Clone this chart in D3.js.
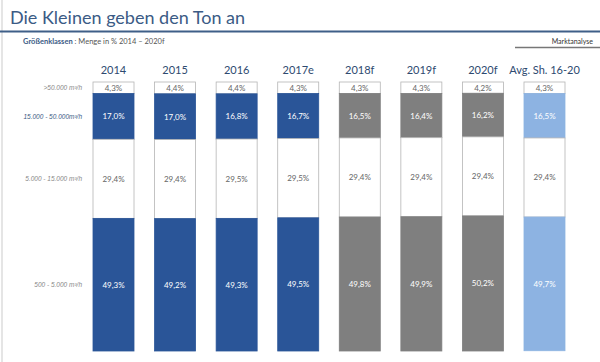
<!DOCTYPE html>
<html>
<head>
<meta charset="utf-8">
<script src="https://cdnjs.cloudflare.com/ajax/libs/d3/7.8.5/d3.min.js"></script>
<style>
  body { margin: 0; background: #fff; }
  svg { display: block; font-family: "Lato", "Open Sans", sans-serif; }
</style>
</head>
<body>
<svg id="chart"></svg>
<script>
// categories (columns) and size classes (rows, top to bottom)
const years = ['2014', '2015', '2016', '2017e', '2018f', '2019f', '2020f', 'Avg. Sh. 16-20']
const classes = ['>50.000 m³/h', '15.000 - 50.000m³/h', '5.000 - 15.000 m³/h', '500 - 5.000 m³/h']
const kinds = ['actual', 'actual', 'actual', 'actual', 'forecast', 'forecast', 'forecast', 'average']

// shares in % per size class
const over50k   = [4.3, 4.4, 4.4, 4.3, 4.3, 4.3, 4.2, 4.3]
const s15to50k  = [17.0, 17.0, 16.8, 16.7, 16.5, 16.4, 16.2, 16.5]
const s5to15k   = [29.4, 29.4, 29.5, 29.5, 29.4, 29.4, 29.4, 29.4]
const s500to5k  = [49.3, 49.2, 49.3, 49.5, 49.8, 49.9, 50.2, 49.7]

const width = 600, height = 362
const fillFor = {actual: '#2a5598', forecast: '#7f7f7f', average: '#8db3e2'}

const data = years.map((y, i) => ({
  year: y, kind: kinds[i],
  c0: over50k[i], c1: s15to50k[i], c2: s5to15k[i], c3: s500to5k[i]
}))

const svg = d3.select('#chart').attr('width', width).attr('height', height)

// frame line at left
svg.append('line').attr('x1', 2).attr('x2', 2).attr('y1', 0).attr('y2', height)
  .attr('stroke', '#ddd').attr('stroke-width', 1.5)

// header
svg.append('text').attr('x', 10).attr('y', 24)
  .attr('font-size', 18).attr('fill', '#3b5b85')
  .text('Die Kleinen geben den Ton an')
svg.append('line').attr('x1', 0).attr('x2', width).attr('y1', 31.5).attr('y2', 31.5)
  .attr('stroke', '#3f5f88').attr('stroke-width', 2)

const sub = svg.append('text').attr('x', 23).attr('y', 44).attr('font-size', 7.5).attr('fill', '#555')
sub.append('tspan').attr('font-weight', 'bold').attr('fill', '#3b5b85').text('Größenklassen')
sub.append('tspan').text(' : Menge in % 2014 – 2020f')

svg.append('text').attr('x', 593).attr('y', 44).attr('text-anchor', 'end')
  .attr('font-size', 7).attr('fill', '#333').text('Marktanalyse')
svg.append('line').attr('x1', 515).attr('x2', width).attr('y1', 47.5).attr('y2', 47.5)
  .attr('stroke', '#777').attr('stroke-width', 1.5)

// scales
const x = d3.scaleBand().domain(years).range([93, 565]).paddingInner(0.334).paddingOuter(0)
const y = d3.scaleLinear().domain([0, 100]).range([82, 351])

const stack = d3.stack().keys(['c0', 'c1', 'c2', 'c3'])
const series = stack(data)

// year labels
svg.append('g').selectAll('text').data(years).join('text')
  .attr('x', d => x(d) + x.bandwidth() / 2).attr('y', 74)
  .attr('text-anchor', 'middle').attr('font-size', 11).attr('fill', '#2e4a70')
  .text(d => d)

// row labels
svg.append('g').selectAll('text').data(series).join('text')
  .attr('x', 82)
  .attr('y', s => (y(s[0][0]) + y(s[0][1])) / 2 + 2.5)
  .attr('text-anchor', 'end').attr('font-size', 6.5).attr('font-style', 'italic')
  .attr('font-family', '"Liberation Sans", "DejaVu Sans", sans-serif')
  .attr('fill', (s, i) => i === 1 ? '#3b5b85' : '#888')
  .text((s, i) => classes[i])

// segments
series.forEach((s, si) => {
  const colored = si % 2 === 1
  const g = svg.append('g')
  g.selectAll('rect').data(s).join('rect')
    .attr('x', d => x(d.data.year))
    .attr('y', d => y(d[0]))
    .attr('width', x.bandwidth())
    .attr('height', d => y(d[1]) - y(d[0]))
    .attr('fill', d => colored ? fillFor[d.data.kind] : '#fff')
    .attr('stroke', d => colored ? fillFor[d.data.kind] : '#b5b5b5')
    .attr('stroke-width', 0.8)
  g.selectAll('text').data(s).join('text')
    .attr('x', d => x(d.data.year) + x.bandwidth() / 2)
    .attr('y', d => (y(d[0]) + y(d[1])) / 2 + 3)
    .attr('text-anchor', 'middle').attr('font-size', 8)
    .attr('fill', colored ? '#fff' : '#666')
    .text((d, i) => d3.format('.1f')(d.data['c' + si]).replace('.', ',') + '%')
})
</script>
</body>
</html>
